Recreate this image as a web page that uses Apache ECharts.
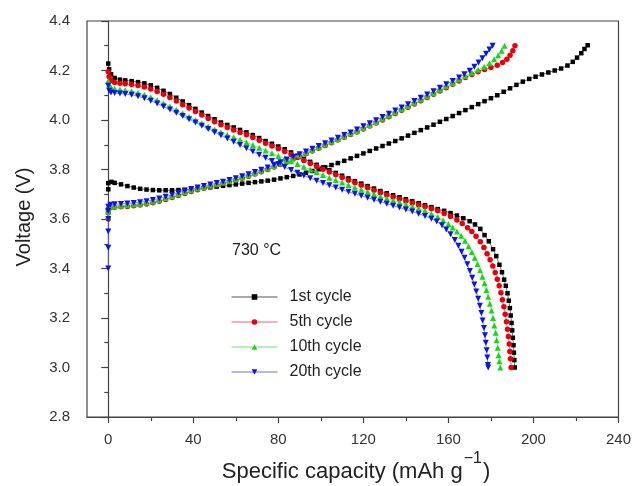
<!DOCTYPE html>
<html>
<head>
<meta charset="utf-8">
<script src="https://cdn.jsdelivr.net/npm/echarts@6/dist/echarts.min.js"></script>
<style>html,body{margin:0;padding:0;background:#fff}#c{width:634px;height:486px}</style>
</head>
<body>
<div id="c"></div>
<script>
const seriesNames = ['1st cycle', '5th cycle', '10th cycle', '20th cycle'];
const xTickValues = [0, 40, 80, 120, 160, 200, 240];
const xMinorTickValues = [20, 60, 100, 140, 180, 220];

const cycle1Charge = [[0,3.72],[0,3.745],[1.5,3.75],[3,3.746],[6,3.74],[9,3.733],[12,3.727],[15,3.722],[18,3.719],[21,3.717],[24,3.716],[27,3.716],[30,3.716],[33,3.717],[36,3.718],[39,3.72],[42,3.722],[45,3.725],[48,3.728],[51,3.731],[54,3.734],[57,3.737],[60,3.74],[63,3.743],[66,3.746],[69,3.749],[72,3.752],[75,3.755],[78,3.759],[81,3.764],[84,3.769],[87,3.774],[90,3.78],[93,3.787],[96,3.794],[99,3.801],[102,3.809],[105,3.818],[108,3.826],[111,3.835],[114,3.845],[117,3.855],[120,3.865],[123,3.875],[126,3.885],[129,3.895],[132,3.905],[135,3.915],[138,3.926],[141,3.937],[144,3.948],[147,3.959],[150,3.97],[153,3.981],[156,3.993],[159,4.004],[162,4.016],[165,4.028],[168,4.04],[171,4.052],[174,4.064],[177,4.076],[180,4.088],[183,4.1],[186,4.114],[189,4.128],[192,4.142],[195,4.155],[198,4.166],[201,4.175],[204,4.184],[207,4.192],[210,4.2],[213,4.208],[216,4.22],[218.5,4.235],[220.5,4.252],[222.5,4.27],[224,4.287],[225.5,4.302]];
const cycle1Discharge = [[0,4.228],[0.4,4.205],[1.3,4.185],[3,4.17],[5.5,4.163],[8,4.16],[11,4.157],[14,4.153],[17,4.148],[20,4.14],[23,4.13],[26,4.118],[29,4.105],[32,4.09],[35,4.075],[38,4.06],[41,4.045],[44,4.03],[47,4.016],[50,4.003],[53,3.99],[56,3.98],[59,3.97],[62,3.96],[65,3.95],[68,3.939],[71,3.927],[74,3.915],[77,3.904],[80,3.893],[83,3.882],[86,3.869],[89,3.856],[92,3.843],[95,3.831],[98,3.819],[101,3.808],[104,3.797],[107,3.786],[110,3.775],[113,3.764],[116,3.753],[119,3.743],[122,3.733],[125,3.723],[128,3.713],[131,3.704],[134,3.696],[137,3.688],[140,3.68],[143,3.672],[146,3.664],[149,3.656],[152,3.648],[155,3.64],[158,3.633],[161,3.624],[164,3.614],[167,3.603],[170,3.591],[172.5,3.578],[175,3.56],[177,3.535],[179,3.51],[181,3.478],[182.5,3.45],[184,3.415],[185.2,3.385],[186.2,3.355],[187,3.33],[187.8,3.3],[188.4,3.27],[188.9,3.24],[189.3,3.21],[189.7,3.18],[190,3.15],[190.3,3.12],[190.6,3.09],[190.8,3.06],[191,3.03],[191.2,3.0]];
const cycle5Charge = [[0,3.6],[0,3.625],[0,3.64],[1,3.645],[3,3.647],[6,3.649],[9,3.651],[12,3.654],[15,3.657],[18,3.661],[21,3.666],[24,3.672],[27,3.679],[30,3.687],[33,3.695],[36,3.703],[39,3.711],[42,3.718],[45,3.725],[48,3.731],[51,3.737],[54,3.743],[57,3.75],[60,3.757],[63,3.765],[66,3.773],[69,3.782],[72,3.791],[75,3.8],[78,3.81],[81,3.82],[84,3.831],[87,3.842],[90,3.853],[93,3.864],[96,3.875],[99,3.886],[102,3.897],[105,3.908],[108,3.919],[111,3.93],[114,3.941],[117,3.952],[120,3.964],[123,3.976],[126,3.988],[129,4.0],[132,4.013],[135,4.026],[138,4.039],[141,4.052],[144,4.065],[147,4.078],[150,4.091],[153,4.104],[156,4.117],[159,4.13],[162,4.144],[165,4.158],[168,4.172],[171,4.184],[174,4.195],[177,4.204],[180,4.212],[183,4.221],[185.5,4.232],[187.5,4.245],[189,4.262],[190.3,4.28],[191.3,4.3]];
const cycle5Discharge = [[0,4.195],[0.4,4.175],[1.3,4.16],[3,4.152],[5.5,4.148],[8,4.146],[11,4.143],[14,4.139],[17,4.133],[20,4.125],[23,4.115],[26,4.104],[29,4.091],[32,4.077],[35,4.062],[38,4.048],[41,4.034],[44,4.02],[47,4.006],[50,3.993],[53,3.981],[56,3.97],[59,3.96],[62,3.95],[65,3.94],[68,3.929],[71,3.918],[74,3.906],[77,3.895],[80,3.884],[83,3.873],[86,3.861],[89,3.848],[92,3.836],[95,3.824],[98,3.812],[101,3.801],[104,3.79],[107,3.779],[110,3.768],[113,3.757],[116,3.746],[119,3.736],[122,3.726],[125,3.716],[128,3.706],[131,3.697],[134,3.689],[137,3.681],[140,3.673],[143,3.665],[146,3.657],[149,3.649],[152,3.641],[155,3.633],[158,3.622],[161,3.61],[164,3.596],[166.5,3.582],[169,3.565],[171,3.549],[173,3.53],[175,3.508],[176.7,3.485],[178.2,3.46],[179.6,3.435],[180.9,3.41],[182,3.384],[183,3.357],[183.9,3.33],[184.7,3.302],[185.4,3.274],[186.1,3.245],[186.7,3.215],[187.3,3.185],[187.8,3.155],[188.2,3.125],[188.6,3.095],[188.9,3.065],[189.2,3.035],[189.5,3.0]];
const cycle10Charge = [[0,3.61],[0,3.63],[0,3.645],[1,3.65],[3,3.652],[6,3.654],[9,3.656],[12,3.659],[15,3.662],[18,3.666],[21,3.671],[24,3.677],[27,3.684],[30,3.692],[33,3.7],[36,3.708],[39,3.716],[42,3.723],[45,3.729],[48,3.735],[51,3.741],[54,3.747],[57,3.754],[60,3.761],[63,3.769],[66,3.777],[69,3.786],[72,3.795],[75,3.804],[78,3.814],[81,3.824],[84,3.835],[87,3.846],[90,3.857],[93,3.868],[96,3.879],[99,3.89],[102,3.901],[105,3.912],[108,3.923],[111,3.934],[114,3.945],[117,3.956],[120,3.968],[123,3.98],[126,3.992],[129,4.005],[132,4.018],[135,4.031],[138,4.044],[141,4.057],[144,4.07],[147,4.083],[150,4.096],[153,4.109],[156,4.122],[159,4.136],[162,4.15],[165,4.164],[168,4.178],[171,4.191],[174,4.203],[176.8,4.215],[179.3,4.229],[181.5,4.245],[183.4,4.262],[185,4.28],[186.4,4.3]];
const cycle10Discharge = [[0,4.158],[0.4,4.142],[1.3,4.132],[3,4.126],[5.5,4.123],[8,4.12],[11,4.116],[14,4.11],[17,4.102],[20,4.092],[23,4.081],[26,4.068],[29,4.055],[32,4.041],[35,4.027],[38,4.013],[41,4.0],[44,3.987],[47,3.974],[50,3.962],[53,3.951],[56,3.94],[59,3.93],[62,3.92],[65,3.91],[68,3.899],[71,3.888],[74,3.877],[77,3.866],[80,3.855],[83,3.844],[86,3.833],[89,3.822],[92,3.811],[95,3.8],[98,3.789],[101,3.778],[104,3.767],[107,3.757],[110,3.747],[113,3.737],[116,3.727],[119,3.718],[122,3.709],[125,3.7],[128,3.691],[131,3.683],[134,3.675],[137,3.667],[140,3.659],[143,3.651],[146,3.642],[149,3.633],[152,3.621],[155,3.608],[157.5,3.595],[160,3.58],[162,3.566],[164,3.55],[166,3.532],[167.8,3.512],[169.5,3.49],[171,3.467],[172.4,3.443],[173.7,3.418],[174.9,3.393],[176,3.367],[177,3.34],[177.9,3.313],[178.7,3.286],[179.5,3.258],[180.3,3.23],[181,3.2],[181.6,3.17],[182.2,3.14],[182.7,3.11],[183.2,3.08],[183.6,3.05],[184,3.025],[184.4,3.0]];
const cycle20Charge = [[0,3.4],[0,3.484],[0,3.549],[0,3.6],[0,3.632],[0,3.65],[1,3.658],[3,3.66],[6,3.661],[9,3.663],[12,3.665],[15,3.668],[18,3.672],[21,3.677],[24,3.683],[27,3.69],[30,3.698],[33,3.706],[36,3.714],[39,3.721],[42,3.727],[45,3.733],[48,3.739],[51,3.745],[54,3.751],[57,3.758],[60,3.765],[63,3.773],[66,3.781],[69,3.79],[72,3.799],[75,3.808],[78,3.818],[81,3.829],[84,3.84],[87,3.851],[90,3.862],[93,3.873],[96,3.884],[99,3.895],[102,3.906],[105,3.917],[108,3.928],[111,3.939],[114,3.95],[117,3.962],[120,3.975],[123,3.987],[126,3.999],[129,4.012],[132,4.025],[135,4.038],[138,4.051],[141,4.064],[144,4.077],[147,4.09],[150,4.103],[153,4.116],[156,4.13],[159,4.144],[162,4.158],[165,4.172],[167.5,4.185],[170,4.199],[172.2,4.215],[174.2,4.232],[176,4.25],[177.7,4.268],[179.3,4.285],[180.8,4.3]];
const cycle20Discharge = [[0,4.138],[0.4,4.118],[1.3,4.111],[3,4.109],[5.5,4.107],[8,4.105],[11,4.102],[14,4.096],[17,4.088],[20,4.078],[23,4.067],[26,4.055],[29,4.042],[32,4.029],[35,4.016],[38,4.003],[41,3.99],[44,3.977],[47,3.964],[50,3.951],[53,3.938],[56,3.925],[59,3.912],[62,3.899],[65,3.886],[68,3.873],[71,3.86],[74,3.847],[77,3.834],[80,3.822],[83,3.81],[86,3.798],[89,3.787],[92,3.776],[95,3.765],[98,3.755],[101,3.745],[104,3.736],[107,3.727],[110,3.718],[113,3.71],[116,3.702],[119,3.694],[122,3.686],[125,3.678],[128,3.67],[131,3.662],[134,3.654],[137,3.646],[140,3.638],[143,3.63],[146,3.621],[149,3.612],[152,3.601],[154.5,3.59],[157,3.575],[159,3.558],[161,3.538],[163,3.515],[164.7,3.492],[166.2,3.468],[167.6,3.443],[168.9,3.417],[170.1,3.39],[171.2,3.363],[172.2,3.335],[173.1,3.307],[174,3.278],[174.8,3.249],[175.5,3.22],[176.1,3.19],[176.7,3.16],[177.2,3.13],[177.6,3.1],[178,3.07],[178.3,3.04],[178.6,3.01],[178.7,3.0]];

const FONT = '"Liberation Sans", Arial, sans-serif';
const styles = [
  { color: '#000000', line: '#555555', symbol: 'rect', size: 4.5 },
  { color: '#e8000b', line: '#f06060', symbol: 'circle', size: 5.5 },
  { color: '#1ad61a', line: '#70e070', symbol: 'triangle', size: 6 },
  { color: '#0a14e6', line: '#6070f0', symbol: 'path://M0,0L10,0L5,9Z', size: 6 }
];
const curves = [
  [cycle1Charge, cycle1Discharge],
  [cycle5Charge, cycle5Discharge],
  [cycle10Charge, cycle10Discharge],
  [cycle20Charge, cycle20Discharge]
];

const series = [];
curves.forEach((pair, i) => {
  pair.forEach(data => {
    series.push({
      name: seriesNames[i],
      type: 'line',
      data: data,
      symbol: styles[i].symbol,
      symbolSize: styles[i].size,
      showAllSymbol: true,
      itemStyle: { color: styles[i].color },
      lineStyle: { color: styles[i].line, width: 0.8 },
      emphasis: { disabled: true },
      z: 2 + i
    });
  });
});

// x-axis title with superscript, pieces placed side by side
const ctx = document.createElement('canvas').getContext('2d');
const mainFont = '22px ' + FONT, supFont = '16px ' + FONT;
ctx.font = mainFont;
const wMain = ctx.measureText('Specific capacity (mAh g').width;
const wClose = ctx.measureText(')').width;
ctx.font = supFont;
const wSup = ctx.measureText('\u22121').width;
const totalW = wMain + 1 + wSup + 1 + wClose;
const titleX = 356 - totalW / 2;

const chart = echarts.init(document.getElementById('c'), null, { renderer: 'canvas' });
chart.setOption({
  animation: false,
  backgroundColor: '#ffffff',
  grid: { left: 87, right: 14, top: 21, bottom: 69, show: true, borderColor: '#444', borderWidth: 1.2, containLabel: false },
  xAxis: [
    {
      type: 'value', min: -10, max: 240,
      axisLine: { show: true, lineStyle: { color: '#444', width: 1.2 } },
      axisTick: { show: true, customValues: xTickValues, length: 6, lineStyle: { color: '#444', width: 1.2 } },
      axisLabel: { customValues: xTickValues, color: '#333', fontSize: 15, fontFamily: FONT, margin: 15 },
      splitLine: { show: false }
    },
    {
      type: 'value', min: -10, max: 240, position: 'bottom',
      axisLine: { show: false },
      axisTick: { show: true, customValues: xMinorTickValues, length: 4, lineStyle: { color: '#444', width: 1.2 } },
      axisLabel: { show: false },
      splitLine: { show: false }
    }
  ],
  yAxis: {
    type: 'value', min: 2.8, max: 4.4, interval: 0.2,
    axisLine: { show: true, lineStyle: { color: '#444', width: 1.2 } },
    axisTick: { show: true, length: 7, lineStyle: { color: '#444', width: 1.2 } },
    minorTick: { show: true, splitNumber: 2, length: 4, lineStyle: { color: '#444', width: 1.2 } },
    axisLabel: { color: '#333', fontSize: 15, fontFamily: FONT, margin: 17, formatter: v => v.toFixed(1) },
    splitLine: { show: false }
  },
  legend: {
    orient: 'vertical', left: 231, top: 289, padding: 0,
    itemWidth: 46, itemHeight: 7, itemGap: 9,
    data: seriesNames,
    lineStyle: { width: 1 },
    textStyle: { color: '#222', fontSize: 16, fontFamily: FONT, padding: [0, 0, 0, 7] },
    selectedMode: false
  },
  graphic: [
    { type: 'text', left: 232, top: 243, style: { text: '730 \u00B0C', font: '16px ' + FONT, fill: '#222' } },
    { type: 'text', x: 24, y: 217, rotation: Math.PI / 2, style: { text: 'Voltage (V)', font: '20px ' + FONT, fill: '#222', align: 'center', verticalAlign: 'middle' } },
    { type: 'text', x: titleX, y: 472, style: { text: 'Specific capacity (mAh g', font: mainFont, fill: '#222', align: 'left', verticalAlign: 'middle' } },
    { type: 'text', x: titleX + wMain + 1, y: 459, style: { text: '\u22121', font: supFont, fill: '#222', align: 'left', verticalAlign: 'middle' } },
    { type: 'text', x: titleX + wMain + 1 + wSup + 1, y: 472, style: { text: ')', font: mainFont, fill: '#222', align: 'left', verticalAlign: 'middle' } }
  ],
  series: series
});
</script>
</body>
</html>
